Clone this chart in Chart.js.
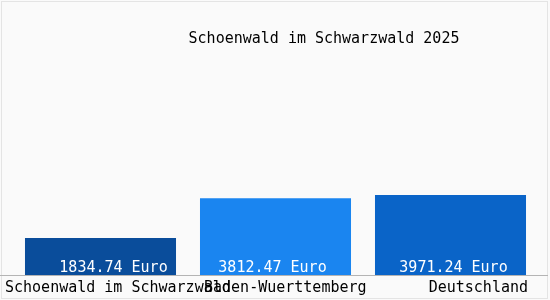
<!DOCTYPE html>
<html>
<head>
<meta charset="utf-8">
<script src="https://cdn.jsdelivr.net/npm/chart.js@4"></script>
<style>
  html, body { margin: 0; padding: 0; background: #fafafa; }
  canvas { display: block; }
</style>
</head>
<body>
<canvas id="incomeChart" width="550" height="300"></canvas>
<script>
const titleText = 'Schoenwald im Schwarzwald 2025';
const regions = ['Schoenwald im Schwarzwald', 'Baden-Wuerttemberg', 'Deutschland'];
const incomes = [1834.74, 3812.47, 3971.24];
const barColors = ['#0a4d9b', '#1a85f0', '#0a64c8'];
const unit = 'Euro';

const monoFont = "15px 'DejaVu Sans Mono', monospace";

// frame, baseline, title, value and category labels
const decorations = {
    id: 'decorations',
    afterDatasetsDraw(chart) {
        const ctx = chart.ctx;
        const meta = chart.getDatasetMeta(0);
        const x = chart.scales.x;
        const y = chart.scales.y;
        const base = Math.round(y.getPixelForValue(0)) + 0.5;

        ctx.save();
        // frame
        ctx.strokeStyle = '#e4e4e4';
        ctx.lineWidth = 1;
        ctx.strokeRect(1.5, 1.5, 546, 297);
        // baseline
        ctx.strokeStyle = '#b4b4b4';
        ctx.beginPath();
        ctx.moveTo(0, base);
        ctx.lineTo(548, base);
        ctx.stroke();

        ctx.font = monoFont;
        ctx.textBaseline = 'middle';

        // title
        ctx.fillStyle = '#000';
        ctx.textAlign = 'center';
        ctx.fillText(titleText, 324, 39);

        // value labels inside bars
        const valueShift = [13, -3, 3];
        ctx.fillStyle = '#fff';
        meta.data.forEach((bar, i) => {
            ctx.fillText(incomes[i].toFixed(2) + ' ' + unit, bar.x + valueShift[i], base - 7);
        });

        // category labels
        ctx.fillStyle = '#000';
        meta.data.forEach((bar, i) => {
            const left = bar.x - bar.width / 2;
            const right = bar.x + bar.width / 2;
            if (i === 0) {
                ctx.textAlign = 'left';
                ctx.fillText(regions[i], left - 20, base + 13);
            } else if (i === regions.length - 1) {
                ctx.textAlign = 'right';
                ctx.fillText(regions[i], right + 2, base + 13);
            } else {
                ctx.textAlign = 'left';
                ctx.fillText(regions[i], left + 4, base + 13);
            }
        });
        ctx.restore();
    }
};

document.addEventListener('DOMContentLoaded', () => {
    const ctx = document.getElementById('incomeChart').getContext('2d');
    new Chart(ctx, {
        type: 'bar',
        data: {
            labels: regions,
            datasets: [{
                data: incomes,
                backgroundColor: barColors,
                borderWidth: 0,
                barPercentage: 0.863,
                categoryPercentage: 1
            }]
        },
        options: {
            responsive: false,
            animation: false,
            layout: { padding: { left: 13, right: 12, top: 0, bottom: 25 } },
            plugins: {
                legend: { display: false },
                tooltip: { enabled: false }
            },
            scales: {
                x: { display: false },
                y: { display: false, min: 0, max: 13640 }
            }
        },
        plugins: [decorations]
    });
});
</script>
</body>
</html>
